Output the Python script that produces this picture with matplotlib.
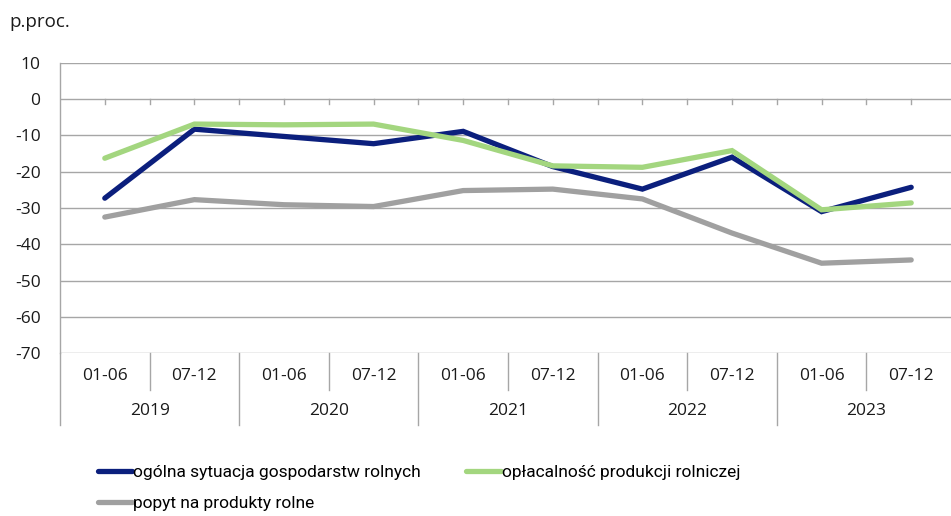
import matplotlib.pyplot as plt
import matplotlib.transforms as mtransforms
from matplotlib.lines import Line2D
from matplotlib import font_manager

# dane
lata = ["2019", "2020", "2021", "2022", "2023"]
polrocza = ["01-06", "07-12"]
sytuacja = [-27.3, -8.3, -10.3, -12.3, -8.9, -18.6, -24.8, -16.0, -31.0, -24.3]
oplacalnosc = [-16.3, -6.9, -7.1, -6.9, -11.4, -18.4, -18.8, -14.2, -30.5, -28.6]
popyt = [-32.5, -27.7, -29.1, -29.6, -25.2, -24.8, -27.5, -36.9, -45.2, -44.3]
nazwy = ["ogólna sytuacja gospodarstw rolnych", "opłacalność produkcji rolniczej",
         "popyt na produkty rolne"]

names = {f.name for f in font_manager.fontManager.ttflist}
tick_font = "Open Sans" if "Open Sans" in names else "DejaVu Sans"
leg_font = "Liberation Sans Narrow" if "Liberation Sans Narrow" in names else "Roboto"
plt.rcParams["font.family"] = [tick_font, "DejaVu Sans"]

W, H = 951, 516
fig = plt.figure(figsize=(W / 100, H / 100), dpi=100)
ax = fig.add_axes([60 / W, 1 - 353.3 / H, 896 / W, (353.3 - 62.7) / H])

x = [i + 0.5 for i in range(len(sytuacja))]
kolory = ["#0b1f7d", "#a3d67f", "#a0a0a0"]
linie = []
for serie, kol, naz in zip([sytuacja, oplacalnosc, popyt], kolory, nazwy):
    l, = ax.plot(x, serie, color=kol, lw=3.8, label=naz, solid_capstyle="round",
                 solid_joinstyle="miter", zorder=3)
    linie.append(l)

ax.set_xlim(0, 10)
ax.set_ylim(-70, 10)
ax.set_yticks(range(-70, 11, 10))
ax.set_yticklabels([str(v) for v in range(-70, 11, 10)], fontsize=12.5)
ax.tick_params(axis="y", length=0, pad=14, colors="#1a1a1a")
ax.set_xticks([])
ax.grid(axis="y", color="#a6a6a6", lw=1)
ax.set_axisbelow(True)
for s in ["top", "right", "bottom"]:
    ax.spines[s].set_visible(False)
ax.spines["left"].set_color("#a6a6a6")
ax.spines["left"].set_linewidth(1)

# kreski na linii zera
for t in range(1, 20):
    ax.plot([t / 2, t / 2], [0, -1.4], color="#a6a6a6", lw=1, zorder=2)

# os kategorii pod wykresem
tr = mtransforms.blended_transform_factory(ax.transData, fig.transFigure)
gray = "#a6a6a6"
for i in range(len(sytuacja) + 1):
    dol = 425 if i % 2 == 0 else 390
    ax.add_line(Line2D([i, i], [1 - 353.3 / H, 1 - dol / H], transform=tr,
                       color=gray, lw=1, clip_on=False))
for i in range(len(sytuacja)):
    ax.text(i + 0.5, 1 - 376 / H, polrocza[i % 2], transform=tr, ha="center",
            va="center", fontsize=12.5, color="#1a1a1a")
for j, rok in enumerate(lata):
    ax.text(2 * j + 1, 1 - 411 / H, rok, transform=tr, ha="center",
            va="center", fontsize=12.5, color="#1a1a1a")

fig.text(9 / W, 1 - 22 / H, "p.proc.", fontsize=13.5, va="center", color="#1a1a1a")

# kolejnosc wierszami: [sytuacja, oplacalnosc] / [popyt]
leg = fig.legend([linie[0], linie[2], linie[1]], [nazwy[0], nazwy[2], nazwy[1]],
                 loc="upper left", bbox_to_anchor=(82 / W, 1 - 449 / H), ncol=2,
                 frameon=False, handlelength=2.0, handletextpad=0.05,
                 columnspacing=2.6, labelspacing=0.95,
                 prop={"family": [leg_font, "DejaVu Sans"], "size": 12.5})

fig.savefig("out.png", dpi=100)
